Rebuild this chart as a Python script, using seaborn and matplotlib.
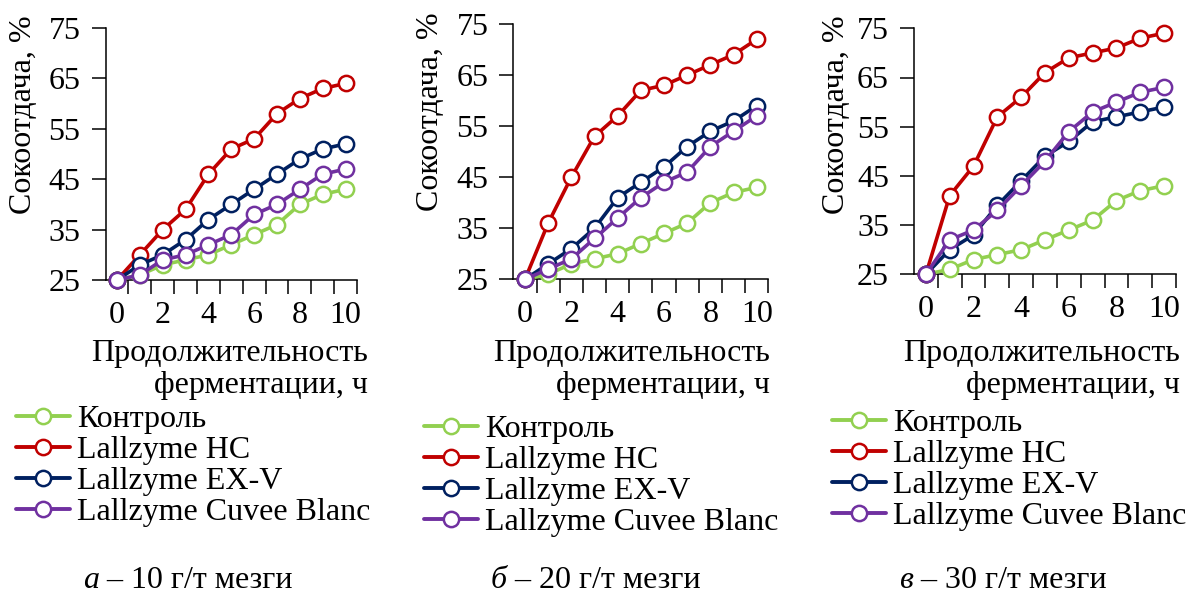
import numpy as np
import pandas as pd
import matplotlib
matplotlib.use("Agg")
import matplotlib.pyplot as plt
import seaborn as sns
from matplotlib.lines import Line2D
from matplotlib.ticker import FixedLocator

sns.set_style("white")
plt.rcParams['font.family'] = ['Liberation Serif', 'DejaVu Serif']
plt.rcParams['text.color'] = 'black'
plt.rcParams['xtick.color'] = 'black'
plt.rcParams['ytick.color'] = 'black'
plt.rcParams['xtick.labelcolor'] = 'black'
plt.rcParams['ytick.labelcolor'] = 'black'

hours = list(range(11))
series_names = ["Контроль", "Lallzyme HC", "Lallzyme EX-V", "Lallzyme Cuvee Blanc"]
colors = ["#92D050", "#C00000", "#002060", "#7030A0"]
yticks = [25, 35, 45, 55, 65, 75]
xticks = [0, 2, 4, 6, 8, 10]

# panel а – 10 g/t
a_control = [25, 26, 28, 29, 30, 32, 34, 36, 40, 42, 43]
a_hc      = [25, 30, 35, 39, 46, 51, 53, 58, 61, 63, 64]
a_exv     = [25, 28, 30, 33, 37, 40, 43, 46, 49, 51, 52]
a_cuvee   = [25, 26, 29, 30, 32, 34, 38, 40, 43, 46, 47]
# panel б – 20 g/t
b_control = [25, 26, 28, 29, 30, 32, 34, 36, 40, 42, 43]
b_hc      = [25, 36, 45, 53, 57, 62, 63, 65, 67, 69, 72]
b_exv     = [25, 28, 31, 35, 41, 44, 47, 51, 54, 56, 59]
b_cuvee   = [25, 27, 29, 33, 37, 41, 44, 46, 51, 54, 57]
# panel в – 30 g/t
c_control = [25, 26, 28, 29, 30, 32, 34, 36, 40, 42, 43]
c_hc      = [25, 41, 47, 57, 61, 66, 69, 70, 71, 73, 74]
c_exv     = [25, 30, 33, 39, 44, 49, 52, 56, 57, 58, 59]
c_cuvee   = [25, 32, 34, 38, 43, 48, 54, 58, 60, 62, 63]

captions_letter = ["а", "б", "в"]
captions_rest = [" – 10 г/т мезги", " – 20 г/т мезги", " – 30 г/т мезги"]
ylabel = "Сокоотдача, %"
xlabel_l1 = "Продолжительность"
xlabel_l2 = "ферментации, ч"

panels = [
    [a_control, a_hc, a_exv, a_cuvee],
    [b_control, b_hc, b_exv, b_cuvee],
    [c_control, c_hc, c_exv, c_cuvee],
]

W, H = 1187, 596
fig = plt.figure(figsize=(W / 100, H / 100), dpi=100)

# pixel boxes: left, right, top(75), bottom(25)
boxes = [(105.6, 357, 28, 280), (513.4, 768.3, 24, 279.3), (914, 1176, 28.3, 274.3)]
ylabel_x = [24, 431, 837]
ylabel_y = [115, 112, 115]
xlab_right = [368, 770, 1180]
legend_pos = [(16, 405), (424, 415), (832, 409)]
cap_x = [99, 507, 913]

FS = 23

for i, (vals, box) in enumerate(zip(panels, boxes)):
    l, r, t, b = box
    ax = fig.add_axes([l / W, 1 - b / H, (r - l) / W, (b - t) / H])
    handles = []
    for name, v, c in zip(series_names, vals, colors):
        df = pd.DataFrame({"t": hours, "v": v})
        sns.lineplot(data=df, x="t", y="v", ax=ax, color=c, linewidth=2.6,
                     marker="o", markersize=11, markerfacecolor="white",
                     markeredgecolor=c, markeredgewidth=1.8, clip_on=False,
                     zorder=3)
        handles.append(Line2D([0], [0], color=c, linewidth=2.8, marker="o",
                              markersize=11, markerfacecolor="white",
                              markeredgecolor=c, markeredgewidth=1.8))
    ax.set_xlim(-0.5, 10.5)
    ax.set_ylim(25, 75)
    ax.set_xlabel("")
    ax.set_ylabel("")
    ax.xaxis.set_major_locator(FixedLocator(xticks))
    ax.xaxis.set_minor_locator(FixedLocator([x + 0.5 for x in hours]))
    ax.yaxis.set_major_locator(FixedLocator(yticks))
    ax.tick_params(axis="x", which="major", length=0, pad=15, labelsize=FS)
    ax.tick_params(axis="x", which="minor", length=10, width=1.1, direction="out", bottom=True, color="black")
    ax.tick_params(axis="y", which="major", length=10, width=1.1, direction="out", left=True, pad=8, labelsize=FS, color="black")
    for s in ["top", "right"]:
        ax.spines[s].set_visible(False)
    for s in ["left", "bottom"]:
        ax.spines[s].set_color("black")
        ax.spines[s].set_linewidth(1.1)
    ax.set_facecolor("none")

    fig.text(ylabel_x[i] / W, 1 - ylabel_y[i] / H, ylabel, rotation=90,
             ha="center", va="center", fontsize=FS)
    fig.text(xlab_right[i] / W, 1 - 339 / H, xlabel_l1 + "\n" + xlabel_l2,
             ha="right", va="top", fontsize=FS, multialignment="right",
             linespacing=1.13)
    lx, ly = legend_pos[i]
    fig.legend(handles, series_names, loc="upper left",
               bbox_to_anchor=(lx / W, 1 - ly / H), frameon=False,
               fontsize=FS, handlelength=1.7, handletextpad=0.2,
               labelspacing=0.05, borderpad=0, borderaxespad=0)
    fig.text(cap_x[i] / W, 1 - 588 / H, captions_letter[i], ha="right",
             va="baseline", fontsize=FS, style="italic")
    fig.text(cap_x[i] / W, 1 - 588 / H, captions_rest[i], ha="left",
             va="baseline", fontsize=FS)

fig.savefig("out.png", dpi=100)
